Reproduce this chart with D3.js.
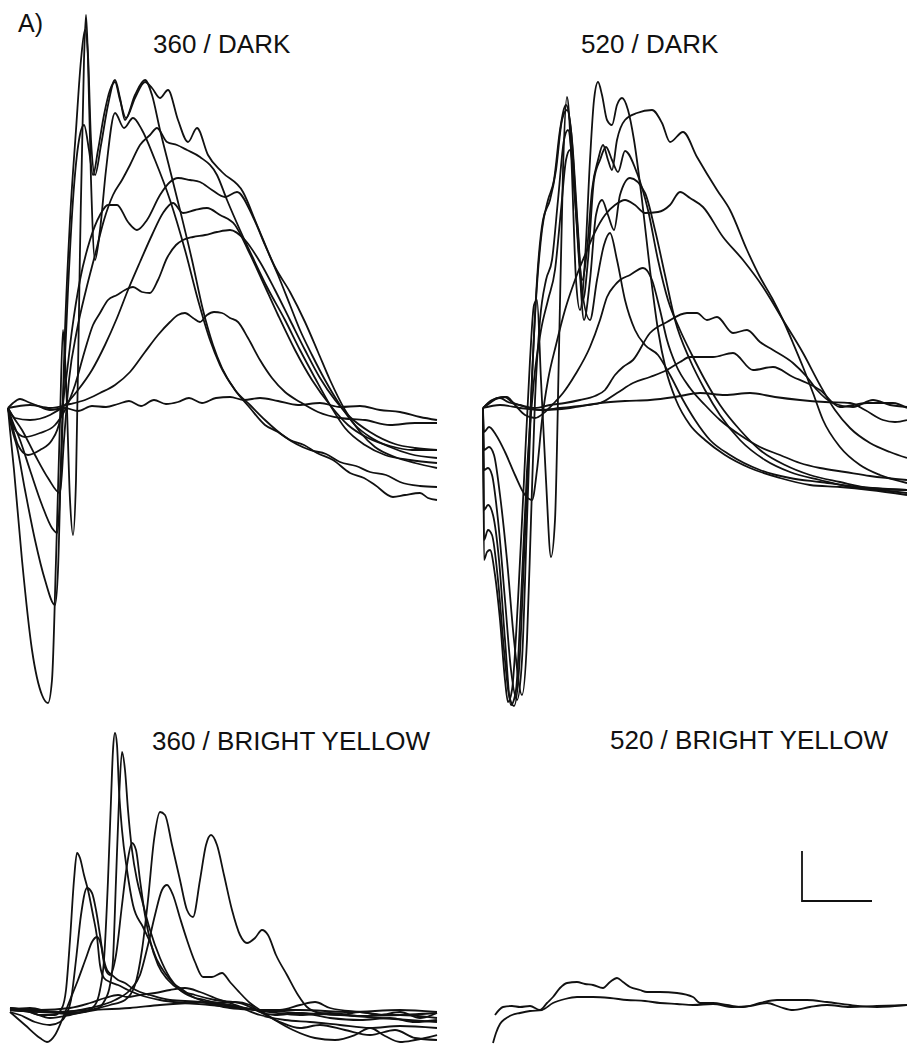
<!DOCTYPE html>
<html>
<head>
<meta charset="utf-8">
<script src="https://cdn.jsdelivr.net/npm/d3@7"></script>
<style>
  html, body { margin: 0; padding: 0; background: #fff; }
  svg { display: block; }
  text { font-family: "Liberation Sans", Arial, Helvetica, sans-serif; fill: #111; }
</style>
</head>
<body>
<script>
// ---------- DATA: ERG traces, [time (ms), amplitude (µV)] ----------
// 360 nm stimulus, dark adapted
const dark360 = [
  [[0,0],[2,-22],[6,-62],[14,-152],[24,-242],[34,-287],[40,-295],[44,-272],[48,-152],[52,-12],[55,78],[58,28],[62,-92],[65,-127],[68,-72],[72,158],[76,348],[78,393],[80,348],[83,228],[87,148],[92,178],[98,238],[107,295],[116,280],[125,290],[134,278],[147,248],[162,208],[177,158],[190,108],[202,68],[212,43],[227,18],[242,0],[257,-17],[270,-24],[282,-32],[296,-37],[309,-45],[325,-52],[342,-65],[356,-70],[367,-77],[385,-89],[397,-87],[412,-85],[420,-90],[429,-92]],
  [[0,0],[3,-17],[9,-39],[17,-82],[27,-132],[37,-172],[47,-197],[50,-162],[53,-52],[57,78],[62,188],[68,278],[73,348],[77,378],[80,353],[83,268],[87,233],[93,263],[100,303],[107,328],[112,310],[117,288],[127,313],[137,328],[144,313],[152,278],[162,238],[172,198],[184,148],[195,98],[205,63],[214,40],[227,18],[242,3],[257,-12],[277,-29],[302,-42],[318,-46],[332,-54],[348,-58],[362,-64],[378,-67],[392,-74],[412,-78],[429,-79]],
  [[0,0],[4,-12],[12,-32],[22,-62],[34,-97],[44,-120],[49,-125],[53,-62],[56,28],[60,118],[65,208],[71,268],[76,283],[81,258],[85,233],[90,258],[96,293],[102,318],[107,326],[112,308],[118,290],[127,310],[137,326],[144,320],[152,310],[160,318],[170,288],[180,266],[189,280],[200,253],[214,236],[235,216],[249,183],[267,141],[282,116],[297,86],[310,56],[322,28],[337,-2],[352,-24],[367,-39],[387,-49],[407,-55],[429,-60]],
  [[0,0],[4,-7],[14,-22],[27,-47],[40,-70],[52,-85],[56,-32],[61,28],[69,78],[78,118],[87,153],[96,188],[105,213],[114,228],[122,243],[132,263],[142,273],[149,280],[159,266],[169,263],[179,258],[192,251],[209,233],[219,208],[232,178],[245,150],[259,121],[277,88],[292,58],[307,30],[322,3],[337,-20],[357,-37],[377,-47],[402,-52],[429,-55]],
  [[0,0],[4,-17],[10,-37],[20,-47],[32,-42],[44,-32],[52,-12],[58,28],[64,78],[72,128],[82,168],[92,193],[100,203],[109,203],[120,186],[129,178],[139,188],[152,213],[162,226],[170,230],[182,228],[192,226],[204,218],[217,211],[229,216],[245,191],[257,163],[270,133],[282,103],[292,78],[304,53],[317,28],[332,3],[347,-17],[362,-29],[382,-39],[402,-46],[429,-50]],
  [[0,0],[6,-20],[17,-29],[32,-25],[47,-17],[57,-2],[67,23],[77,58],[85,83],[92,95],[100,108],[109,113],[117,118],[125,121],[134,116],[142,115],[150,128],[159,150],[168,163],[175,168],[185,171],[197,173],[209,176],[222,178],[237,168],[252,146],[267,118],[282,88],[297,58],[312,30],[327,8],[342,-9],[362,-24],[387,-36],[407,-40],[429,-42]],
  [[0,0],[7,-10],[22,-12],[42,-7],[57,3],[70,18],[84,38],[97,63],[109,90],[120,118],[132,146],[144,173],[155,195],[165,205],[175,195],[187,198],[199,200],[212,193],[227,183],[240,158],[254,128],[270,93],[287,58],[304,28],[322,3],[340,-17],[360,-30],[382,-38],[404,-42],[429,-42]],
  [[0,0],[22,3],[42,0],[62,4],[77,8],[92,15],[107,23],[122,36],[137,56],[150,73],[162,86],[170,93],[177,95],[185,90],[192,86],[199,93],[206,96],[214,95],[222,90],[230,86],[240,70],[252,48],[264,30],[277,16],[292,6],[310,-4],[332,-10],[357,-12],[382,-17],[407,-15],[429,-15]],
  [[0,0],[5,5],[12,9],[20,6],[30,2],[42,-2],[57,0],[70,-3],[84,2],[98,1],[110,4],[121,7],[133,2],[146,8],[158,4],[170,6],[181,10],[194,5],[208,10],[222,11],[236,8],[252,10],[270,7],[290,3],[312,5],[332,1],[352,2],[372,-2],[392,-4],[412,-9],[429,-12]]
];

// 520 nm stimulus, dark adapted
const dark520 = [
  [[0,0],[1,-152],[4,-144],[7,-142],[12,-167],[17,-212],[22,-272],[25,-294],[29,-282],[35,-192],[41,-72],[47,48],[51,103],[54,108],[58,28],[63,-72],[68,-149],[72,-112],[76,58],[80,238],[84,311],[88,258],[93,128],[97,98],[102,148],[107,248],[111,308],[115,326],[119,313],[124,288],[129,283],[134,303],[139,310],[145,298],[151,268],[159,208],[167,138],[175,78],[183,38],[193,8],[207,-17],[222,-32],[242,-47],[267,-60],[297,-70],[327,-77],[357,-79],[387,-82],[424,-87]],
  [[0,0],[1,-132],[5,-122],[9,-127],[15,-172],[21,-242],[26,-287],[31,-298],[36,-262],[41,-152],[47,-12],[53,108],[59,178],[65,208],[71,228],[77,278],[83,303],[88,278],[94,188],[99,128],[104,158],[109,218],[115,248],[120,263],[125,248],[129,238],[134,268],[142,288],[154,295],[169,298],[179,285],[187,266],[200,276],[214,251],[234,218],[247,198],[264,158],[277,131],[289,110],[300,88],[310,65],[320,41],[330,15],[340,-12],[357,-39],[377,-57],[397,-67],[424,-75]],
  [[0,0],[1,-62],[5,-60],[9,-67],[15,-112],[22,-192],[28,-262],[34,-292],[39,-252],[44,-112],[49,28],[54,128],[60,188],[67,208],[73,238],[79,288],[84,298],[89,268],[95,178],[100,108],[105,148],[111,228],[117,248],[123,261],[129,248],[135,236],[142,257],[154,235],[165,198],[175,148],[185,108],[197,78],[209,53],[222,28],[237,3],[257,-22],[277,-42],[302,-57],[327,-67],[357,-74],[387,-80],[424,-82]],
  [[0,0],[1,-42],[6,-39],[11,-47],[17,-87],[24,-152],[31,-232],[39,-287],[44,-232],[48,-112],[52,8],[57,88],[63,128],[69,148],[75,208],[81,268],[85,278],[90,238],[96,148],[101,88],[107,128],[113,193],[119,208],[125,193],[131,178],[137,213],[147,230],[162,215],[172,178],[182,133],[192,88],[207,48],[222,18],[237,-7],[257,-32],[282,-52],[307,-64],[337,-72],[367,-79],[397,-82],[424,-85]],
  [[0,0],[1,-102],[5,-97],[10,-107],[16,-152],[22,-232],[28,-297],[33,-282],[38,-192],[44,-62],[51,28],[58,78],[65,108],[72,138],[78,198],[83,248],[87,258],[92,208],[99,118],[107,88],[114,128],[121,163],[127,175],[134,148],[142,108],[152,78],[162,63],[175,53],[187,33],[200,8],[212,-12],[227,-32],[247,-47],[277,-62],[307,-70],[337,-74],[377,-79],[424,-82]],
  [[0,0],[1,-24],[6,-19],[13,-27],[22,-44],[32,-67],[42,-87],[49,-92],[54,-62],[59,-12],[65,28],[73,63],[82,98],[92,128],[102,153],[112,176],[122,193],[132,203],[142,208],[152,203],[162,195],[175,196],[187,203],[197,216],[207,210],[220,201],[240,171],[260,148],[280,121],[300,88],[320,55],[337,23],[352,-2],[367,-20],[387,-35],[407,-44],[424,-50]],
  [[0,0],[7,5],[15,10],[24,11],[32,3],[42,-7],[52,-10],[62,-4],[72,6],[80,15],[92,33],[107,61],[117,88],[124,111],[132,123],[137,128],[147,133],[160,140],[169,128],[177,98],[184,68],[193,43],[207,20],[222,3],[237,-12],[257,-27],[277,-39],[297,-47],[317,-55],[337,-60],[362,-64],[387,-68],[424,-72]],
  [[0,0],[9,8],[17,10],[25,6],[37,3],[52,0],[67,3],[82,5],[97,8],[112,12],[122,18],[132,33],[140,41],[150,48],[167,75],[184,86],[204,95],[214,95],[224,88],[234,91],[250,75],[264,78],[277,66],[290,58],[310,45],[324,31],[334,18],[350,5],[370,1],[390,8],[407,3],[424,1]],
  [[0,0],[17,3],[37,0],[57,-2],[77,0],[97,2],[117,5],[134,15],[150,25],[167,31],[184,38],[197,46],[207,51],[230,51],[250,55],[270,38],[290,41],[310,31],[324,25],[337,18],[357,1],[384,5],[410,5],[424,0]],
  [[0,0],[7,6],[14,10],[22,11],[29,6],[39,2],[57,-2],[87,0],[117,5],[142,7],[167,8],[192,11],[217,15],[242,13],[267,15],[292,11],[317,8],[342,6],[367,5],[382,-2],[400,-12],[412,-14],[424,-12]]
];

// 360 nm stimulus, bright yellow background
const bright360 = [
  [[0,0],[20,-2],[40,-8],[60,-5],[80,0],[100,5],[115,10],[125,25],[132,60],[138,110],[144,170],[150,198],[155,195],[162,165],[170,130],[177,100],[183,93],[190,130],[196,165],[201,175],[207,165],[214,135],[222,100],[230,75],[237,67],[245,72],[252,80],[258,75],[266,55],[277,35],[288,15],[297,3],[310,-3],[330,-5],[350,-2],[370,-5],[390,-2],[410,-8],[427,-3]],
  [[0,0],[20,0],[50,-2],[80,2],[105,10],[120,20],[130,35],[138,65],[145,95],[152,120],[157,125],[163,115],[170,92],[177,70],[185,48],[193,33],[202,33],[212,37],[220,28],[230,17],[240,7],[250,0],[265,-10],[283,-20],[305,-28],[325,-30],[345,-25],[360,-18],[375,-26],[390,-32],[405,-30],[427,-25]],
  [[0,0],[20,2],[40,-2],[60,-4],[75,-2],[85,5],[90,20],[94,50],[98,130],[101,210],[103,260],[105,277],[107,265],[109,220],[112,180],[117,140],[123,105],[133,83],[140,68],[147,50],[155,37],[163,27],[173,20],[183,13],[195,10],[207,7],[225,8],[240,5],[250,-2],[265,-5],[290,-3],[320,-8],[350,-10],[380,-8],[405,-12],[427,-10]],
  [[0,0],[30,-2],[60,-3],[85,0],[95,10],[100,25],[103,50],[106,130],[109,210],[112,258],[115,240],[118,200],[122,160],[127,130],[132,110],[140,80],[150,52],[160,32],[170,20],[185,12],[200,7],[215,5],[230,2],[250,-5],[275,-10],[300,-12],[330,-15],[360,-18],[390,-16],[427,-18]],
  [[0,2],[15,0],[30,-5],[45,-5],[52,2],[56,20],[60,70],[64,130],[67,157],[70,152],[74,135],[78,120],[83,95],[87,73],[90,45],[94,32],[100,28],[108,25],[118,20],[130,15],[150,10],[175,7],[200,5],[230,2],[260,-2],[290,-5],[320,-3],[350,-6],[390,-5],[427,-8]],
  [[0,-2],[10,-5],[25,-12],[40,-15],[50,-12],[56,-5],[61,10],[66,50],[71,95],[77,122],[82,117],[86,100],[90,75],[93,55],[97,40],[102,35],[108,30],[115,27],[122,22],[130,18],[140,15],[160,10],[190,8],[220,2],[250,0],[290,-3],[330,-5],[370,-8],[427,-12]],
  [[0,-2],[15,-15],[30,-28],[37,-32],[45,-25],[52,-10],[60,10],[68,30],[76,52],[82,68],[87,73],[91,65],[95,42],[100,35],[106,55],[112,105],[117,145],[122,167],[126,160],[130,130],[135,95],[140,70],[148,45],[158,30],[170,20],[185,15],[205,10],[230,7],[250,-2],[270,-12],[290,-18],[310,-15],[335,-20],[360,-25],[385,-20],[405,-28],[427,-30]],
  [[0,2],[30,0],[60,2],[80,7],[95,12],[108,15],[117,13],[130,15],[145,17],[160,20],[175,22],[190,18],[205,12],[220,7],[235,2],[250,0],[270,0],[290,5],[305,8],[320,2],[350,-2],[380,-5],[427,-3]],
  [[0,0],[40,-2],[80,0],[120,2],[150,5],[180,7],[200,8],[220,5],[250,0],[290,0],[340,-2],[390,0],[427,-2]]
];

// 520 nm stimulus, bright yellow background
const bright520 = [
  [[2,-8],[10,0],[19,1],[27,0],[37,1],[47,-3],[54,4],[60,10],[67,19],[74,24],[84,25],[92,23],[100,22],[110,19],[117,25],[124,29],[130,25],[137,20],[147,17],[154,15],[167,15],[184,14],[200,10],[207,4],[220,4],[234,2],[250,0],[267,4],[284,7],[300,7],[314,7],[334,5],[357,2],[384,0],[414,2]],
  [[0,-36],[3,-26],[7,-17],[12,-12],[19,-8],[27,-6],[37,-4],[49,-3],[60,4],[72,8],[84,10],[100,10],[117,9],[134,7],[152,6],[167,4],[184,3],[200,2],[220,3],[240,0],[257,1],[274,4],[287,0],[300,-3],[317,0],[334,2],[357,0],[384,1],[414,2]]
];

// Calibration bar (ms, µV) and its anchor in the 520 / bright-yellow panel
const scaleBarMs = 70;
const scaleBarUv = 50;
const scaleBarAt = [309, 106];

const titles = ["360 / DARK", "520 / DARK", "360 / BRIGHT YELLOW", "520 / BRIGHT YELLOW"];
const figureLabel = "A)";

// ---------- LAYOUT ----------
const W = 907, H = 1045;
const layout = [
  { data: dark360,   x0: 8,   base: 408,  tx: 153, ty: 53 },
  { data: dark520,   x0: 483, base: 408,  tx: 581, ty: 53 },
  { data: bright360, x0: 10,  base: 1010, tx: 152, ty: 750 },
  { data: bright520, x0: 493, base: 1007, tx: 610, ty: 749 }
];

const svg = d3.select("body").append("svg")
  .attr("width", W).attr("height", H)
  .attr("viewBox", `0 0 ${W} ${H}`);

svg.append("text")
  .attr("x", 18).attr("y", 32)
  .attr("font-size", 25)
  .text(figureLabel);

const scalesOf = [];
layout.forEach((p, i) => {
  const x = d3.scaleLinear().domain([0, 430]).range([p.x0, p.x0 + 430]);
  const y = d3.scaleLinear().domain([-300, 400]).range([p.base + 300, p.base - 400]);
  scalesOf.push({ x, y });

  const g = svg.append("g");
  const line = d3.line()
    .x(d => x(d[0]))
    .y(d => y(d[1]))
    .curve(d3.curveMonotoneX);

  g.selectAll("path.trace")
    .data(p.data)
    .join("path")
    .attr("class", "trace")
    .attr("d", line)
    .attr("fill", "none")
    .attr("stroke", "#111")
    .attr("stroke-width", 1.8)
    .attr("stroke-linejoin", "round");

  svg.append("text")
    .attr("x", p.tx).attr("y", p.ty)
    .attr("font-size", 26)
    .text(titles[i]);
});

// calibration bar
{
  const { x, y } = scalesOf[3];
  const [t0, a0] = scaleBarAt;
  const pts = [[t0, a0 + scaleBarUv], [t0, a0], [t0 + scaleBarMs, a0]];
  svg.append("path")
    .attr("d", d3.line().x(d => x(d[0])).y(d => y(d[1]))(pts))
    .attr("fill", "none")
    .attr("stroke", "#111")
    .attr("stroke-width", 1.8);
}
</script>
</body>
</html>
